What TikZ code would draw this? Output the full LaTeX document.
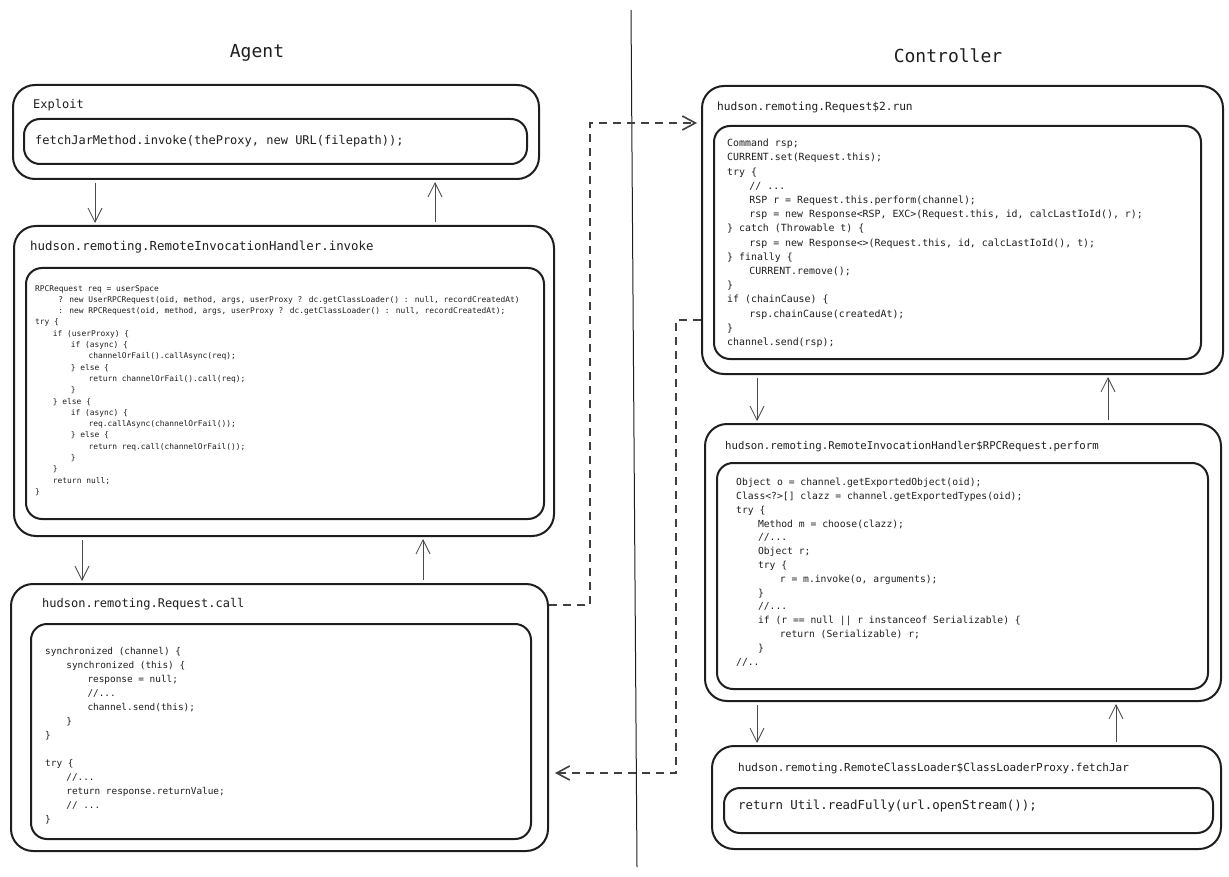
\documentclass[tikz,border=0pt]{standalone}
\usepackage{fontspec}
\usepackage{tikz}
\usetikzlibrary{arrows.meta,calc}
\newfontfamily\codefont{DejaVu Sans Mono}
\newcommand{\lvl}[1]{\hspace*{#1\dimexpr 2.25em\relax}}
\definecolor{ink}{HTML}{1E1E1E}
\definecolor{wire}{HTML}{4A4A4A}

\begin{document}
\begin{tikzpicture}[x=1pt,y=-1pt,
    outerbox/.style={draw=ink,line width=2pt,rounded corners=22pt,anchor=north west,inner sep=0pt},
    innerbox/.style={draw=ink,line width=2pt,rounded corners=16pt,anchor=north west,inner sep=0pt},
    title/.style={anchor=west,inner sep=0pt,text=ink,font=\codefont\fontsize{#1}{#1}\selectfont},
    code/.style 2 args={anchor=north west,align=left,inner sep=0pt,text=ink,font=\codefont\fontsize{#1}{#2}\selectfont},
    heading/.style={text=ink,font=\codefont\fontsize{18}{20}\selectfont},
    flow/.style={draw=wire,line width=0.8pt,shorten <=3pt,shorten >=2pt,-{Straight Barb[length=14pt,width=14pt,line width=0.8pt]}},
    remote/.style={draw=ink!85,line width=1.8pt,dash pattern=on 8pt off 6pt,-{Straight Barb[length=13pt,width=14pt,line width=1.6pt]}}]
\useasboundingbox (0,0) rectangle (1229,877);

\node[heading] (agent) at (257,53) {Agent};
\node[heading] (ctrl) at (948,56) {Controller};
\draw[ink,line width=1pt] (631,10) -- (637,867);

% agent side
\node[outerbox,minimum width=526pt,minimum height=94pt] (expl) at (12,84) {};
\node[title=12] (expltitle) at (33,105) {Exploit};
\node[innerbox,minimum width=503pt,minimum height=45pt] (explin) at (23,118) {};
\node[title=12] (explcode) at (35,141) {fetchJarMethod.invoke(theProxy, new URL(filepath));};

\node[outerbox,minimum width=540pt,minimum height=310pt] (invk) at (13,225) {};
\node[title=12.4] (invktitle) at (30,247) {hudson.remoting.RemoteInvocationHandler.invoke};
\node[innerbox,minimum width=518pt,minimum height=251pt] (invkin) at (25,267) {};
\node[code={7.9}{11.3}] (invkcode) at (35,285) {RPCRequest req = userSpace\\
\lvl{1.3}? new UserRPCRequest(oid, method, args, userProxy ? dc.getClassLoader() : null, recordCreatedAt)\\
\lvl{1.3}: new RPCRequest(oid, method, args, userProxy ? dc.getClassLoader() : null, recordCreatedAt);\\
try \{\\
\lvl{1}if (userProxy) \{\\
\lvl{2}if (async) \{\\
\lvl{3}channelOrFail().callAsync(req);\\
\lvl{2}\} else \{\\
\lvl{3}return channelOrFail().call(req);\\
\lvl{2}\}\\
\lvl{1}\} else \{\\
\lvl{2}if (async) \{\\
\lvl{3}req.callAsync(channelOrFail());\\
\lvl{2}\} else \{\\
\lvl{3}return req.call(channelOrFail());\\
\lvl{2}\}\\
\lvl{1}\}\\
\lvl{1}return null;\\
\}};

\node[outerbox,minimum width=537pt,minimum height=267pt] (call) at (10,583) {};
\node[title=12] (calltitle) at (42,604) {hudson.remoting.Request.call};
\node[innerbox,minimum width=500pt,minimum height=215pt] (callin) at (30,623) {};
\node[code={9.4}{14}] (callcode) at (45,647) {synchronized (channel) \{\\
\lvl{1}synchronized (this) \{\\
\lvl{2}response = null;\\
\lvl{2}//...\\
\lvl{2}channel.send(this);\\
\lvl{1}\}\\
\}\\[14pt]
try \{\\
\lvl{1}//...\\
\lvl{1}return response.returnValue;\\
\lvl{1}// ...\\
\}};

% controller side
\node[outerbox,minimum width=521pt,minimum height=288pt] (run) at (701,85) {};
\node[title=11.2] (runtitle) at (717,107) {hudson.remoting.Request\$2.run};
\node[innerbox,minimum width=487pt,minimum height=233pt] (runin) at (713,125) {};
\node[code={9.9}{14.2}] (runcode) at (727,139) {Command rsp;\\
CURRENT.set(Request.this);\\
try \{\\
\lvl{1}// ...\\
\lvl{1}RSP r = Request.this.perform(channel);\\
\lvl{1}rsp = new Response<RSP, EXC>(Request.this, id, calcLastIoId(), r);\\
\} catch (Throwable t) \{\\
\lvl{1}rsp = new Response<>(Request.this, id, calcLastIoId(), t);\\
\} finally \{\\
\lvl{1}CURRENT.remove();\\
\}\\
if (chainCause) \{\\
\lvl{1}rsp.chainCause(createdAt);\\
\}\\
channel.send(rsp);};

\node[outerbox,minimum width=516pt,minimum height=277pt] (perf) at (704,423) {};
\node[title=10.7] (perftitle) at (725,447) {hudson.remoting.RemoteInvocationHandler\$RPCRequest.perform};
\node[innerbox,minimum width=491pt,minimum height=226pt] (perfin) at (716,462) {};
\node[code={9.7}{13.8}] (perfcode) at (736,478) {Object o = channel.getExportedObject(oid);\\
Class<?>[] clazz = channel.getExportedTypes(oid);\\
try \{\\
\lvl{1}Method m = choose(clazz);\\
\lvl{1}//...\\
\lvl{1}Object r;\\
\lvl{1}try \{\\
\lvl{2}r = m.invoke(o, arguments);\\
\lvl{1}\}\\
\lvl{1}//...\\
\lvl{1}if (r == null || r instanceof Serializable) \{\\
\lvl{2}return (Serializable) r;\\
\lvl{1}\}\\
//..};

\node[outerbox,minimum width=509pt,minimum height=103pt] (fetch) at (711,745) {};
\node[title=11] (fetchtitle) at (738,768) {hudson.remoting.RemoteClassLoader\$ClassLoaderProxy.fetchJar};
\node[innerbox,minimum width=489pt,minimum height=45pt] (fetchin) at (723,787) {};
\node[title=12.4] (fetchcode) at (738,806) {return Util.readFully(url.openStream());};

% calls and returns
\draw[flow] ([xshift=83pt]expl.south west) -- ([xshift=82pt]invk.north west);
\draw[flow] ([xshift=422pt]invk.north west) -- ([xshift=423pt]expl.south west);
\draw[flow] ([xshift=69pt]invk.south west) -- ([xshift=72pt]call.north west);
\draw[flow] ([xshift=413pt]call.north west) -- ([xshift=410pt]invk.south west);
\draw[flow] ([xshift=56pt]run.south west) -- ([xshift=53pt]perf.north west);
\draw[flow] ([xshift=404pt]perf.north west) -- ([xshift=407pt]run.south west);
\draw[flow] ([xshift=53pt]perf.south west) -- ([xshift=46pt]fetch.north west);
\draw[flow] ([xshift=405pt]fetch.north west) -- ([xshift=412pt]perf.south west);

% remote channel
\draw[remote] ([yshift=-22pt]call.north east) -- ++(41,0) |- ([xshift=-4pt,yshift=-38pt]run.north west);
\draw[remote] ([yshift=-235pt]run.north west) -- ++(-25,0) |- ([xshift=6pt,yshift=79pt]call.south east);
\end{tikzpicture}
\end{document}
